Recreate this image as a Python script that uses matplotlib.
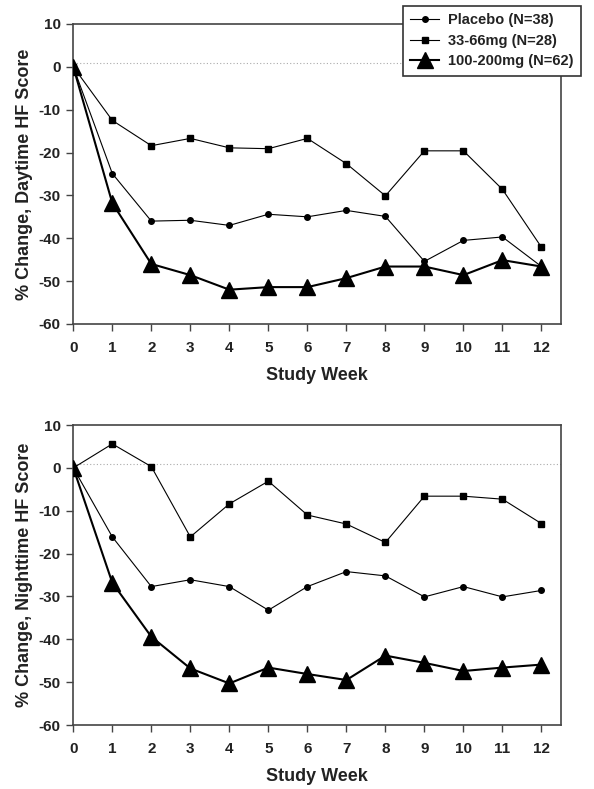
import matplotlib
matplotlib.use('Agg')
import matplotlib.pyplot as plt

plt.rcParams['font.family'] = ['Liberation Sans', 'DejaVu Sans']
plt.rcParams['font.weight'] = 'bold'
plt.rcParams['axes.unicode_minus'] = False

weeks = [0, 1, 2, 3, 4, 5, 6, 7, 8, 9, 10, 11, 12]

# daytime HF score, % change
day_placebo = [0, -24.9, -36.0, -35.8, -37.0, -34.4, -35.0, -33.5, -34.9, -45.4, -40.5, -39.7, -46.6]
day_low = [0, -12.5, -18.4, -16.7, -18.9, -19.1, -16.7, -22.6, -30.1, -19.6, -19.6, -28.6, -42.1]
day_high = [0, -31.8, -46.0, -48.6, -52.0, -51.4, -51.4, -49.3, -46.6, -46.6, -48.6, -45.1, -46.6]

# nighttime HF score, % change
night_placebo = [0, -16.1, -27.7, -26.1, -27.7, -33.2, -27.7, -24.2, -25.2, -30.1, -27.7, -30.1, -28.6]
night_low = [0, 5.6, 0.3, -16.1, -8.4, -3.1, -11.0, -13.1, -17.4, -6.6, -6.6, -7.3, -13.0]
night_high = [0, -26.8, -39.4, -46.8, -50.3, -46.6, -48.1, -49.5, -43.8, -45.5, -47.4, -46.6, -45.9]

labels = ['Placebo (N=38)', '33-66mg (N=28)', '100-200mg (N=62)']
ylabels = ['% Change, Daytime HF Score', '% Change, Nighttime HF Score']

fig = plt.figure(figsize=(5.94, 7.89), dpi=100)
ax1 = fig.add_axes([0.1234, 0.5894, 0.821, 0.3802])
ax2 = fig.add_axes([0.1234, 0.0811, 0.821, 0.3802])

txt = '#222222'
for ax, pl, lo, hi, yl in [(ax1, day_placebo, day_low, day_high, ylabels[0]),
                           (ax2, night_placebo, night_low, night_high, ylabels[1])]:
    ax.axhline(1, color='#aaaaaa', lw=0.8, ls=(0, (1, 2)), zorder=1)
    ax.plot(weeks, pl, '-o', color='black', lw=0.8, ms=4, label=labels[0], zorder=3)
    ax.plot(weeks, lo, '-s', color='black', lw=0.8, ms=5, label=labels[1], zorder=3)
    ax.plot(weeks, hi, '-^', color='black', lw=1.5, ms=11, label=labels[2], zorder=4)
    ax.set_xlim(0, 12.5)
    ax.set_ylim(-60, 10)
    ax.set_xticks(weeks)
    ax.set_yticks(range(-60, 11, 10))
    ax.tick_params(direction='out', length=5, width=1, colors='#444444',
                   labelcolor=txt, labelsize=11)
    ax.tick_params(axis='y', pad=4)
    ax.tick_params(axis='x', pad=7)
    for s in ax.spines.values():
        s.set_color('#444444')
        s.set_linewidth(1.2)
    ax.set_xlabel('Study Week', fontsize=13, fontweight='bold', color=txt, labelpad=9)
    ax.set_ylabel(yl, fontsize=13, fontweight='bold', color=txt, labelpad=4)

h, l = ax1.get_legend_handles_labels()
leg = fig.legend(h, l, loc='upper right', bbox_to_anchor=(0.978, 0.9924),
                 fancybox=False, edgecolor='#333333', framealpha=1, numpoints=1,
                 fontsize=10.5, handlelength=2.0, handletextpad=0.6,
                 labelspacing=0.45, borderpad=0.5, borderaxespad=0)
leg.get_frame().set_linewidth(1.2)
for t in leg.get_texts():
    t.set_color(txt)
    t.set_fontweight('bold')

plt.savefig('out.png', dpi=100)
